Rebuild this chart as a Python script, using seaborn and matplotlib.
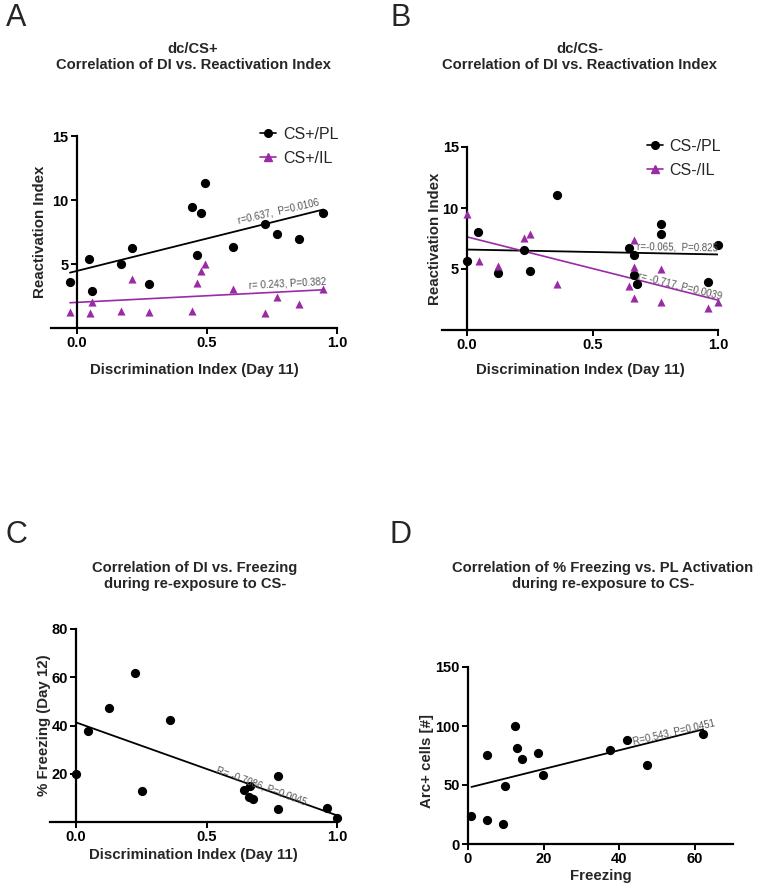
import numpy as np
import pandas as pd
import matplotlib
matplotlib.use('Agg')
import matplotlib.pyplot as plt
from matplotlib.lines import Line2D
import seaborn as sns

sns.set_theme(style='ticks')
plt.rcParams['font.family'] = ['Liberation Sans', 'DejaVu Sans']

# =====================================================
# DATA
# =====================================================
# A: dc/CS+
a_di = [-0.027, 0.047, 0.058, 0.168, 0.213, 0.276, 0.444, 0.46, 0.476, 0.492, 0.60, 0.724, 0.768, 0.854, 0.947]
a_pl = [3.57, 5.36, 2.92, 5.03, 6.28, 3.41, 9.43, 5.68, 9.01, 11.35, 6.35, 8.15, 7.32, 6.95, 9.01]
a_di_il = [-0.027, 0.05, 0.058, 0.168, 0.213, 0.276, 0.444, 0.46, 0.476, 0.492, 0.60, 0.724, 0.768, 0.854, 0.947]
a_il = [1.27, 1.15, 2.06, 1.35, 3.85, 1.27, 1.35, 3.49, 4.48, 5.0, 3.07, 1.15, 2.42, 1.85, 3.02]

# B: dc/CS-
b_di = [0.0, 0.044, 0.125, 0.226, 0.252, 0.357, 0.644, 0.665, 0.665, 0.676, 0.773, 0.773, 0.961, 1.0]
b_pl = [5.63, 8.0, 4.65, 6.56, 4.86, 11.07, 6.72, 6.17, 4.5, 3.74, 8.72, 7.9, 3.93, 6.99]
b_di_il = [0.0, 0.046, 0.125, 0.225, 0.252, 0.357, 0.644, 0.665, 0.665, 0.665, 0.773, 0.773, 0.961, 1.0]
b_il = [9.48, 5.68, 5.22, 7.57, 7.84, 3.8, 3.63, 7.38, 5.16, 2.6, 5.0, 2.3, 1.78, 2.32]

# C: DI vs freezing
c_di = [0.0, 0.044, 0.127, 0.225, 0.252, 0.361, 0.645, 0.667, 0.663, 0.679, 0.773, 0.773, 0.961, 1.0]
c_frz = [20.1, 37.6, 47.2, 61.9, 12.8, 42.1, 13.4, 14.9, 10.3, 9.6, 19.0, 5.5, 5.6, 1.5]

# D: freezing vs Arc+ cells
d_frz = [0.9, 5.0, 5.0, 9.2, 9.7, 12.4, 12.9, 14.3, 18.6, 19.8, 37.6, 42.1, 47.3, 62.1]
d_arc = [23.5, 20.7, 75.2, 17.0, 49.5, 100, 81.7, 71.8, 77.4, 58.2, 80, 88.1, 67, 93.2]

MAGENTA = '#9B2AA6'
GREY = '#555555'
LABEL_FS = 10.8

# =====================================================
# FIGURE
# =====================================================
fig = plt.figure(figsize=(7.6, 8.85), dpi=100)
W, H = 760, 885


def add_ax(x0, x1, y_top, y_bot):
    return fig.add_axes([x0 / W, 1 - y_bot / H, (x1 - x0) / W, (y_bot - y_top) / H])


def prism_style(ax, yaxis_at_zero=True):
    sns.despine(ax=ax)
    if yaxis_at_zero:
        ax.spines['left'].set_position(('data', 0))
    for s in ['left', 'bottom']:
        ax.spines[s].set_linewidth(1.6)
        ax.spines[s].set_color('black')
    ax.tick_params(direction='out', length=4, width=1.4, labelsize=10.5, pad=2, colors='black')
    for lab in ax.get_xticklabels() + ax.get_yticklabels():
        lab.set_fontweight('bold')
    ax.set_facecolor('none')


def scatter_fit(ax, x, y, color, marker, size, lw):
    df = pd.DataFrame({'x': x, 'y': y})
    sns.regplot(ax=ax, data=df, x='x', y='y', ci=None, marker=marker, color=color,
                scatter_kws={'s': size, 'clip_on': False, 'zorder': 3, 'linewidths': 0, 'alpha': 1},
                line_kws={'lw': lw, 'zorder': 2})


def legend(ax, labels, loc):
    handles = [
        Line2D([0], [0], color='black', marker='o', markersize=5.5, lw=1.2),
        Line2D([0], [0], color=MAGENTA, marker='^', markersize=5.5, lw=1.2),
    ]
    ax.legend(handles, labels, loc='upper left', bbox_to_anchor=loc, frameon=False,
              handlelength=1.0, handletextpad=0.4, labelspacing=0.55, fontsize=11.5,
              borderaxespad=0)


# ---------------- A ----------------
axA = add_ax(51, 337, 136, 328)
scatter_fit(axA, a_di, a_pl, 'black', 'o', 44, 1.3)
scatter_fit(axA, a_di_il, a_il, MAGENTA, '^', 34, 1.2)
axA.set(xlim=(-0.1, 1.0), ylim=(0, 15), xticks=[0, 0.5, 1.0], yticks=[5, 10, 15])
axA.set_xticklabels(['0.0', '0.5', '1.0'])
prism_style(axA)
axA.set_xlabel('Discrimination Index (Day 11)', fontsize=LABEL_FS, fontweight='bold')
axA.set_ylabel('Reactivation Index', fontsize=LABEL_FS, fontweight='bold')
axA.xaxis.set_label_coords(0.5, -0.18)
axA.yaxis.set_label_coords(-0.014, 0.5)
axA.text(0.775, 9.15, 'r=0.637,  P=0.0106', fontsize=7, color=GREY, rotation=13,
         ha='center', va='center', rotation_mode='anchor')
axA.text(0.81, 3.45, 'r= 0.243, P=0.382', fontsize=7, color=GREY, rotation=3,
         ha='center', va='center', rotation_mode='anchor')
legend(axA, ['CS+/PL', 'CS+/IL'], (0.71, 1.08))

# ---------------- B ----------------
axB = add_ax(442, 718, 147, 330)
scatter_fit(axB, b_di, b_pl, 'black', 'o', 44, 1.3)
scatter_fit(axB, b_di_il, b_il, MAGENTA, '^', 34, 1.2)
axB.set(xlim=(-0.1, 1.0), ylim=(0, 15), xticks=[0, 0.5, 1.0], yticks=[5, 10, 15])
axB.set_xticklabels(['0.0', '0.5', '1.0'])
prism_style(axB)
axB.set_xlabel('Discrimination Index (Day 11)', fontsize=LABEL_FS, fontweight='bold')
axB.set_ylabel('Reactivation Index', fontsize=LABEL_FS, fontweight='bold')
axB.xaxis.set_label_coords(0.5, -0.18)
axB.yaxis.set_label_coords(0.0, 0.5)
axB.text(0.84, 6.75, 'r=-0.065,  P=0.825', fontsize=7, color=GREY, rotation=-1,
         ha='center', va='center', rotation_mode='anchor')
axB.text(0.85, 3.6, 'r= -0.717, P=0.0039', fontsize=7, color=GREY, rotation=-14,
         ha='center', va='center', rotation_mode='anchor')
legend(axB, ['CS-/PL', 'CS-/IL'], (0.72, 1.08))

# ---------------- C ----------------
axC = add_ax(50, 337, 629, 822)
scatter_fit(axC, c_di, c_frz, 'black', 'o', 44, 1.3)
axC.set(xlim=(-0.1, 1.0), ylim=(0, 80), xticks=[0, 0.5, 1.0], yticks=[20, 40, 60, 80])
axC.set_xticklabels(['0.0', '0.5', '1.0'])
prism_style(axC)
axC.set_xlabel('Discrimination Index (Day 11)', fontsize=LABEL_FS, fontweight='bold')
axC.set_ylabel('% Freezing (Day 12)', fontsize=LABEL_FS, fontweight='bold')
axC.xaxis.set_label_coords(0.5, -0.135)
axC.yaxis.set_label_coords(0.003, 0.5)
axC.text(0.71, 14.9, 'R= -0.7086, P=0.0045', fontsize=7, color=GREY, rotation=-20,
         ha='center', va='center', rotation_mode='anchor')

# ---------------- D ----------------
axD = add_ax(468, 733, 667, 844)
scatter_fit(axD, d_frz, d_arc, 'black', 'o', 44, 1.3)
axD.set(xlim=(0, 70), ylim=(0, 150), xticks=[0, 20, 40, 60], yticks=[0, 50, 100, 150])
prism_style(axD, yaxis_at_zero=False)
axD.set_xlabel('Freezing', fontsize=LABEL_FS, fontweight='bold')
axD.set_ylabel('Arc+ cells [#]', fontsize=LABEL_FS, fontweight='bold')
axD.xaxis.set_label_coords(0.5, -0.14)
axD.yaxis.set_label_coords(-0.128, 0.47)
axD.text(54.5, 95, 'R=0.543, P=0.0451', fontsize=7, color=GREY, rotation=13,
         ha='center', va='center', rotation_mode='anchor')

# =====================================================
# TITLES AND PANEL LETTERS
# =====================================================
titles = [
    (193, 57, 'dc/CS+\nCorrelation of DI vs. Reactivation Index'),
    (580, 57, 'dc/CS-\nCorrelation of DI vs. Reactivation Index'),
    (195, 576, 'Correlation of DI vs. Freezing\nduring re-exposure to CS-'),
    (603, 576, 'Correlation of % Freezing vs. PL Activation\nduring re-exposure to CS-'),
]
for x, y, t in titles:
    fig.text(x / W, 1 - y / H, t, ha='center', va='center', fontsize=10.6,
             fontweight='bold', linespacing=1.15)

for x, y, letter in [(16, 18, 'A'), (401, 18, 'B'), (16, 535, 'C'), (401, 535, 'D')]:
    fig.text(x / W, 1 - y / H, letter, ha='center', va='center', fontsize=22)

fig.savefig('out.png', dpi=100)
plt.close()
